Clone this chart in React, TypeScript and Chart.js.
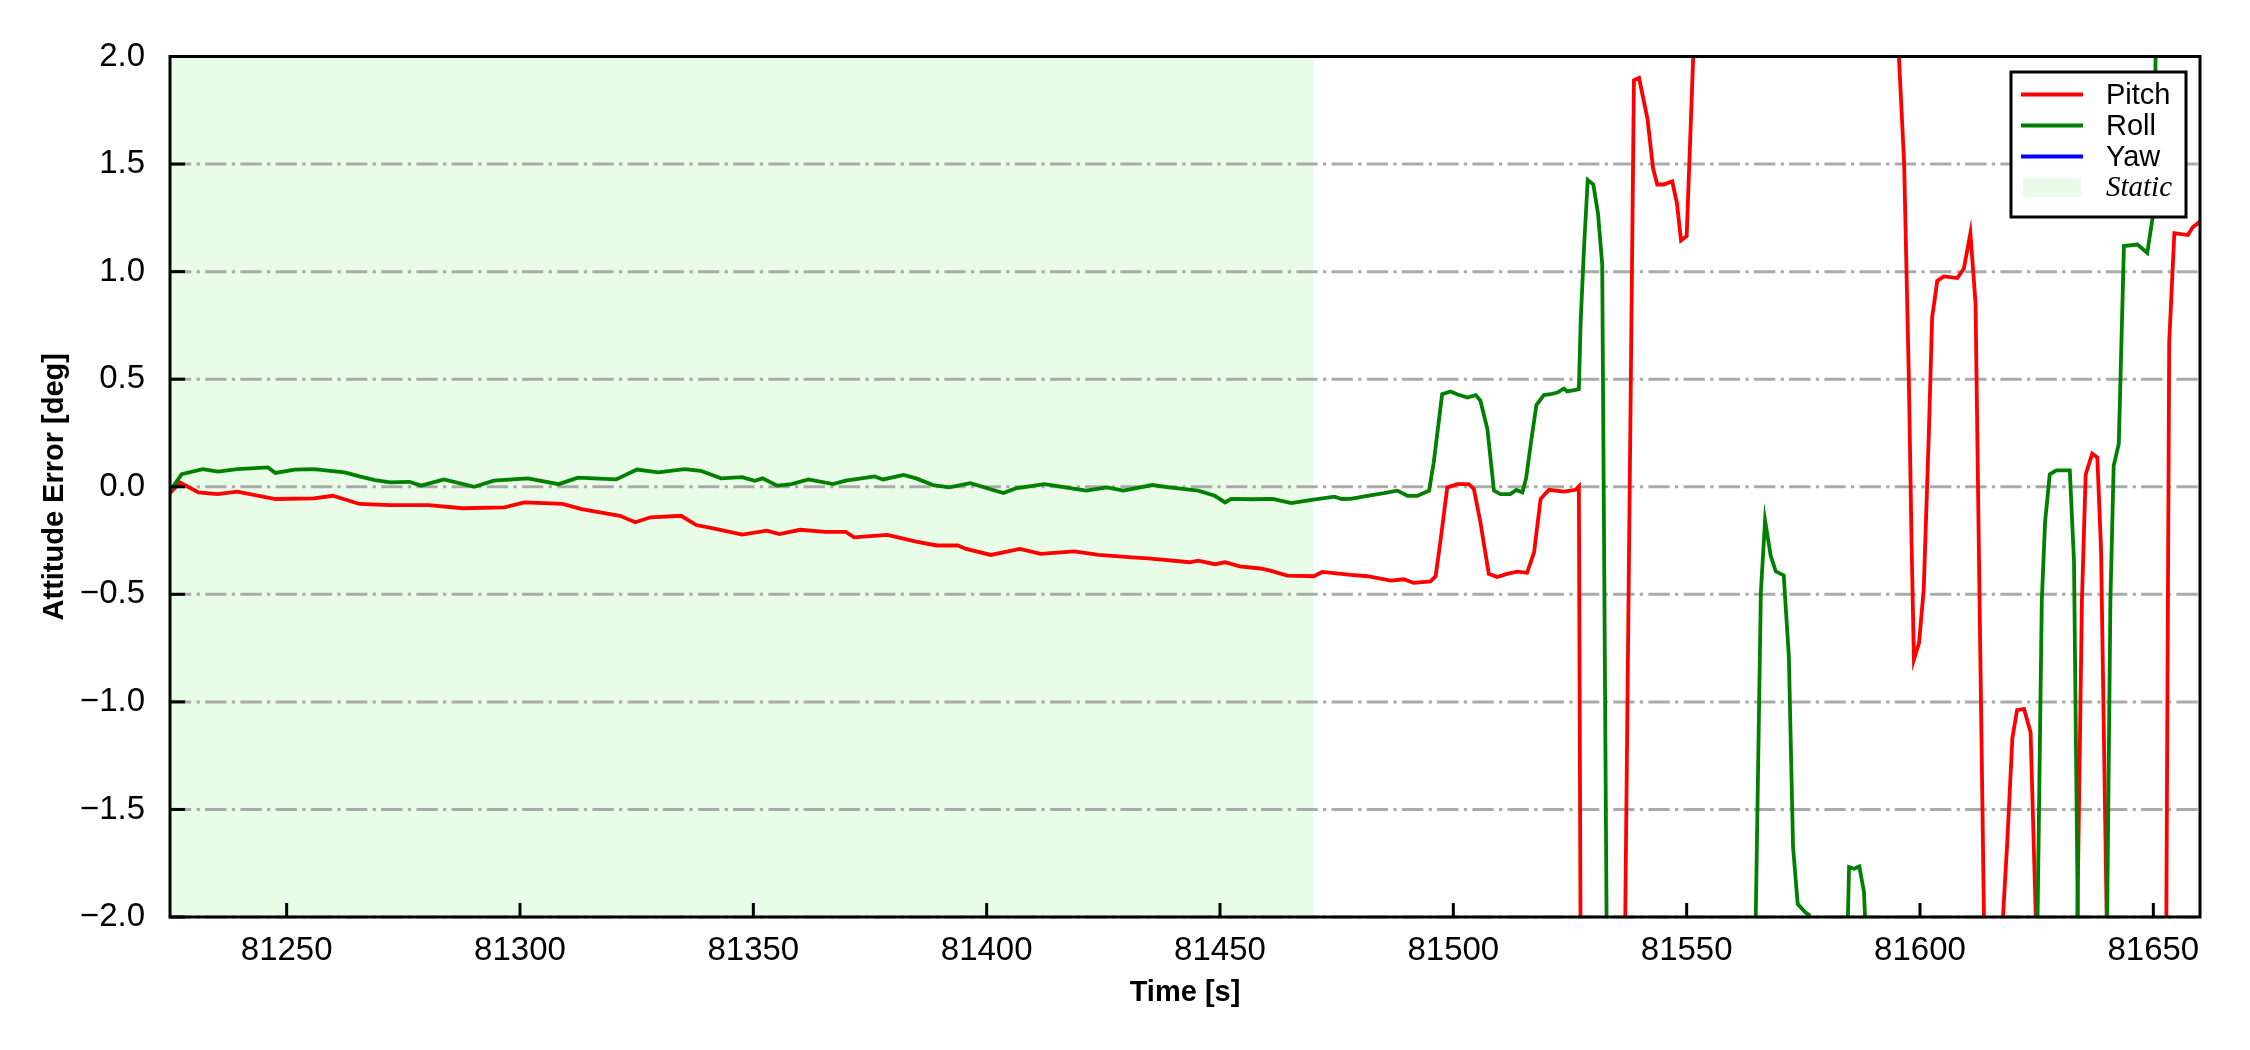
import React, { useEffect, useRef } from "react";
import { Chart, registerables } from "chart.js";

Chart.register(...registerables);

// ---------------- data ----------------
const X_MIN = 81225;
const X_MAX = 81660;
const Y_MIN = -2;
const Y_MAX = 2;
const X_TICKS = [81250, 81300, 81350, 81400, 81450, 81500, 81550, 81600, 81650];
const Y_TICKS = [-2.0, -1.5, -1.0, -0.5, 0.0, 0.5, 1.0, 1.5, 2.0];

const STATIC_START = 81225;
const STATIC_END = 81470;

const PITCH_T = [
  81225.0, 81227.1, 81231.1, 81235.2, 81239.4, 81247.6, 81255.8, 81259.9, 81265.6, 81272.2,
  81280.4, 81287.7, 81296.7, 81300.9, 81309.1, 81313.2, 81321.4, 81324.7, 81328.0, 81334.5,
  81337.8, 81341.9, 81347.6, 81352.9, 81355.6, 81360.0, 81365.4, 81369.8, 81371.6, 81378.7,
  81384.9, 81389.3, 81393.8, 81395.6, 81400.9, 81407.1, 81411.6, 81418.7, 81424.0, 81431.1,
  81434.6, 81443.5, 81445.3, 81448.9, 81451.1, 81454.2, 81458.6, 81460.8, 81464.4, 81470.1,
  81471.9, 81478.0, 81481.6, 81486.6, 81489.4, 81491.5, 81495.1, 81496.2, 81497.3, 81498.7,
  81500.8, 81503.3, 81504.4, 81505.8, 81507.6, 81509.4, 81511.5, 81513.7, 81515.8, 81517.3,
  81518.7, 81520.5, 81523.7, 81526.2, 81526.9, 81527.6, 81536.0, 81538.7, 81539.8, 81541.6,
  81542.8, 81543.7, 81545.1, 81546.9, 81547.9, 81548.8, 81550.0, 81552.5, 81594.8, 81596.6,
  81597.6, 81598.2, 81598.7, 81599.8, 81600.8, 81601.9, 81602.6, 81603.7, 81605.1, 81608.0,
  81609.4, 81610.8, 81611.9, 81612.6, 81613.7, 81614.5, 81617.0, 81618.7, 81619.8, 81620.8,
  81622.3, 81623.7, 81624.8, 81625.3, 81633.2, 81634.7, 81635.5, 81636.9, 81638.0, 81638.8,
  81640.0, 81640.5, 81652.6, 81653.4, 81654.5, 81657.4, 81658.4, 81660.6,
];
const PITCH_V = [
  -0.03, 0.02, -0.026, -0.034, -0.023, -0.057, -0.054, -0.042, -0.08, -0.085,
  -0.085, -0.1, -0.096, -0.073, -0.08, -0.104, -0.135, -0.165, -0.142, -0.135,
  -0.178, -0.196, -0.222, -0.204, -0.22, -0.2, -0.21, -0.21, -0.235, -0.224,
  -0.255, -0.273, -0.273, -0.289, -0.317, -0.289, -0.312, -0.3, -0.317, -0.328,
  -0.333, -0.351, -0.344, -0.36, -0.351, -0.37, -0.38, -0.39, -0.413, -0.416,
  -0.396, -0.41, -0.416, -0.436, -0.43, -0.447, -0.44, -0.416, -0.243, -0.003,
  0.012, 0.012, -0.01, -0.165, -0.405, -0.42, -0.405, -0.395, -0.4, -0.305,
  -0.057, -0.014, -0.023, -0.014, 0.002, -4.0, -3.75, 1.89, 1.9, 1.71,
  1.48, 1.405, 1.405, 1.42, 1.32, 1.145, 1.165, 2.65, 2.3, 1.505,
  0.514, -0.27, -0.803, -0.725, -0.477, 0.253, 0.787, 0.957, 0.978, 0.97,
  1.014, 1.179, 0.853, -0.27, -1.99, -3.2, -2.3, -1.65, -1.168, -1.038,
  -1.033, -1.142, -1.99, -3.0, -2.8, -0.53, 0.057, 0.154, 0.136, -0.295,
  -2.0, -3.5, -2.8, 0.67, 1.179, 1.17, 1.205, 1.244,
];

const ROLL_T = [
  81225.0, 81227.5, 81232.0, 81235.3, 81239.4, 81246.0, 81247.6, 81251.7, 81255.8, 81262.4,
  81265.6, 81268.9, 81272.2, 81276.3, 81278.8, 81283.7, 81290.2, 81294.4, 81301.7, 81308.3,
  81312.4, 81320.6, 81325.1, 81329.6, 81335.3, 81338.7, 81343.1, 81347.6, 81350.3, 81352.0,
  81355.1, 81358.2, 81361.8, 81367.1, 81369.8, 81376.0, 81377.8, 81382.2, 81384.9, 81388.5,
  81392.0, 81396.5, 81403.6, 81406.2, 81412.4, 81416.9, 81421.3, 81425.8, 81429.3, 81435.5,
  81439.1, 81445.3, 81448.9, 81451.1, 81452.4, 81456.9, 81461.3, 81465.3, 81469.3, 81474.5,
  81476.1, 81478.0, 81481.6, 81485.1, 81488.0, 81490.2, 81492.3, 81494.8, 81495.8, 81497.6,
  81499.4, 81500.8, 81503.0, 81504.8, 81505.8, 81507.3, 81508.7, 81510.1, 81512.2, 81513.5,
  81514.8, 81515.6, 81516.6, 81517.8, 81519.4, 81520.8, 81522.3, 81523.7, 81524.4, 81526.2,
  81526.9, 81527.3, 81528.0, 81528.8, 81530.0, 81531.0, 81531.9, 81533.3, 81564.3, 81565.9,
  81566.8, 81568.0, 81569.1, 81570.8, 81571.9, 81572.8, 81573.8, 81575.5, 81576.2, 81577.5,
  81584.0, 81584.8, 81585.9, 81587.0, 81588.0, 81589.0, 81624.8, 81626.1, 81626.8, 81627.8,
  81629.2, 81632.1, 81633.0, 81634.3, 81639.7, 81640.8, 81641.5, 81642.6, 81643.7, 81646.6,
  81648.7, 81649.8, 81650.2, 81651.0, 81661.0,
];
const ROLL_V = [
  -0.02, 0.059, 0.082, 0.07, 0.082, 0.09, 0.064, 0.08, 0.082, 0.067,
  0.048, 0.031, 0.02, 0.023, 0.005, 0.034, 0.0, 0.028, 0.039, 0.012,
  0.042, 0.034, 0.08, 0.067, 0.082, 0.074, 0.039, 0.045, 0.028, 0.039,
  0.005, 0.012, 0.034, 0.012, 0.028, 0.048, 0.034, 0.055, 0.039, 0.008,
  -0.003, 0.017, -0.029, -0.008, 0.012, -0.003, -0.018, -0.003, -0.018, 0.008,
  -0.003, -0.018, -0.042, -0.073, -0.056, -0.058, -0.056, -0.076, -0.062, -0.046,
  -0.057, -0.056, -0.042, -0.03, -0.018, -0.042, -0.042, -0.018, 0.113, 0.43,
  0.443, 0.43, 0.415, 0.426, 0.4, 0.268, -0.018, -0.034, -0.034, -0.015,
  -0.026, 0.04, 0.2, 0.38, 0.426, 0.43, 0.438, 0.456, 0.443, 0.45,
  0.454, 0.774, 1.11, 1.426, 1.405, 1.27, 1.035, -3.5, -2.7, -0.49,
  -0.156, -0.32, -0.394, -0.412, -0.79, -1.677, -1.94, -1.98, -1.99, -2.3,
  -2.5, -1.768, -1.776, -1.765, -1.885, -2.4, -2.65, -0.53, -0.164, 0.057,
  0.076, 0.076, -0.347, -3.0, -2.85, -0.53, 0.096, 0.2, 1.119, 1.126,
  1.087, 1.244, 1.557, 2.8, 3.0,
];

// Yaw error lies entirely outside the displayed range; only its legend entry is visible.
const YAW_T: number[] = [];
const YAW_V: number[] = [];

const SERIES_LABELS = ["Pitch", "Roll", "Yaw"];
const SERIES_COLORS = ["#ff0000", "#008000", "#0000ff"];
const STATIC_LABEL = "Static";
const STATIC_COLOR = "#e8fce8";

// ---------------- styling ----------------
const SANS = "'Liberation Sans', Arial, Helvetica, sans-serif";
const SERIF = "'Liberation Serif', 'Times New Roman', serif";
const LINE_W = 3.8;

const toPoints = (t: number[], v: number[]) => t.map((x, i) => ({ x, y: v[i] }));

const fmtY = (v: number) => {
  const s = Math.abs(v).toFixed(1);
  return v < -1e-9 ? "\u2212" + s : s;
};

const framePlugin = {
  id: "frame",
  beforeDraw(chart: any) {
    const { ctx, chartArea: a, scales } = chart;
    const xs = scales.x;
    const ys = scales.y;
    // static band
    const x0 = Math.max(a.left, xs.getPixelForValue(STATIC_START));
    const x1 = Math.min(a.right, xs.getPixelForValue(STATIC_END));
    ctx.save();
    ctx.fillStyle = STATIC_COLOR;
    ctx.fillRect(x0, a.top, x1 - x0, a.bottom - a.top);
    // horizontal dash-dot grid
    ctx.strokeStyle = "#aaaaaa";
    ctx.lineWidth = 3;
    ctx.setLineDash([21.3, 5.3, 3.3, 5.3]);
    ctx.lineDashOffset = 0;
    for (const v of Y_TICKS) {
      const y = ys.getPixelForValue(v);
      ctx.beginPath();
      ctx.moveTo(a.left, y);
      ctx.lineTo(a.right, y);
      ctx.stroke();
    }
    ctx.restore();
  },
  afterDatasetsDraw(chart: any) {
    const { ctx, chartArea: a, scales } = chart;
    const xs = scales.x;
    const ys = scales.y;
    ctx.save();
    ctx.setLineDash([]);
    ctx.strokeStyle = "#000";
    ctx.lineWidth = 3;
    // inward ticks
    for (const v of X_TICKS) {
      const x = xs.getPixelForValue(v);
      ctx.beginPath();
      ctx.moveTo(x, a.bottom);
      ctx.lineTo(x, a.bottom - 14);
      ctx.stroke();
    }
    for (const v of Y_TICKS) {
      const y = ys.getPixelForValue(v);
      ctx.beginPath();
      ctx.moveTo(a.left, y);
      ctx.lineTo(a.left + 15, y);
      ctx.stroke();
    }
    // spines
    ctx.strokeRect(a.left, a.top, a.right - a.left, a.bottom - a.top);
    ctx.restore();
  },
  afterDraw(chart: any) {
    const { ctx, chartArea: a } = chart;
    const bx = a.right - 189;
    const by = a.top + 15.5;
    const bw = 175;
    const bh = 145;
    ctx.save();
    ctx.fillStyle = "#ffffff";
    ctx.fillRect(bx, by, bw, bh);
    ctx.strokeStyle = "#000";
    ctx.lineWidth = 3;
    ctx.strokeRect(bx, by, bw, bh);
    const rowY = (i: number) => by + 22.5 + i * 31;
    chart.data.datasets.forEach((ds: any, i: number) => {
      const y = rowY(i);
      ctx.strokeStyle = ds.borderColor;
      ctx.lineWidth = LINE_W;
      ctx.beginPath();
      ctx.moveTo(bx + 10, y);
      ctx.lineTo(bx + 72, y);
      ctx.stroke();
      ctx.fillStyle = "#000";
      ctx.font = `29px ${SANS}`;
      ctx.textBaseline = "middle";
      ctx.textAlign = "left";
      ctx.fillText(ds.label, bx + 95, y + 1);
    });
    const ys = rowY(3);
    ctx.fillStyle = STATIC_COLOR;
    ctx.fillRect(bx + 12, ys - 9.5, 58, 19);
    ctx.fillStyle = "#000";
    ctx.font = `italic 29px ${SERIF}`;
    ctx.textBaseline = "middle";
    ctx.fillText(STATIC_LABEL, bx + 95, ys + 1);
    ctx.restore();
  },
};

export default function App() {
  const ref = useRef<HTMLCanvasElement | null>(null);

  useEffect(() => {
    if (!ref.current) return;
    const series = [
      toPoints(PITCH_T, PITCH_V),
      toPoints(ROLL_T, ROLL_V),
      toPoints(YAW_T, YAW_V),
    ];
    const chart = new Chart(ref.current, {
      type: "line",
      data: {
        datasets: series.map((data, i) => ({
          label: SERIES_LABELS[i],
          data,
          borderColor: SERIES_COLORS[i],
          backgroundColor: SERIES_COLORS[i],
          borderWidth: LINE_W,
          pointRadius: 0,
          tension: 0,
          fill: false,
          order: 3 - i,
          clip: 0,
        })),
      },
      options: {
        animation: false,
        responsive: false,
        devicePixelRatio: 1,
        layout: { padding: { left: 0, right: 50, top: 56.5, bottom: 0 } },
        plugins: { legend: { display: false }, tooltip: { enabled: false } },
        scales: {
          x: {
            type: "linear",
            min: X_MIN,
            max: X_MAX,
            afterBuildTicks: (s: any) => {
              s.ticks = X_TICKS.map((value) => ({ value }));
            },
            afterFit: (s: any) => {
              s.height = 133;
            },
            grid: { display: false },
            border: { display: false },
            ticks: {
              color: "#000",
              font: { family: SANS, size: 33 },
              padding: 6,
              maxRotation: 0,
              autoSkip: false,
              callback: (v: any) => String(v),
            },
            title: {
              display: true,
              text: "Time [s]",
              color: "#000",
              font: { family: SANS, size: 29, weight: "bold" },
              padding: { top: 0, bottom: 40 },
            },
          },
          y: {
            type: "linear",
            min: Y_MIN,
            max: Y_MAX,
            afterBuildTicks: (s: any) => {
              s.ticks = Y_TICKS.map((value) => ({ value }));
            },
            afterFit: (s: any) => {
              s.width = 170;
            },
            grid: { display: false },
            border: { display: false },
            ticks: {
              color: "#000",
              font: { family: SANS, size: 33 },
              padding: 17,
              autoSkip: false,
              callback: (v: any) => fmtY(Number(v)),
            },
            title: {
              display: true,
              text: "Attitude Error [deg]",
              color: "#000",
              font: { family: SANS, size: 29, weight: "bold" },
              padding: { top: 38, bottom: 0 },
            },
          },
        },
      },
      plugins: [framePlugin],
    } as any);
    return () => chart.destroy();
  }, []);

  return (
    <div style={{ position: "absolute", left: 0, top: 0, width: 2250, height: 1050, background: "#fff" }}>
      <canvas ref={ref} width={2250} height={1050} style={{ width: 2250, height: 1050, display: "block" }} />
    </div>
  );
}
